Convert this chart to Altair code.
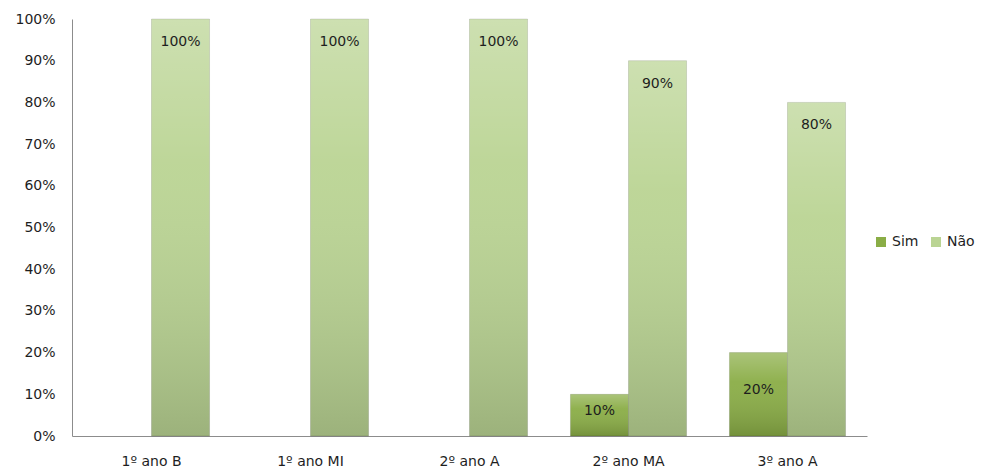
import altair as alt
import pandas as pd

# Respostas por turma (percentual)
turmas = ["1º ano B", "1º ano MI", "2º ano A", "2º ano MA", "3º ano A"]
sim = [0, 0, 0, 10, 20]
nao = [100, 100, 100, 90, 80]
series = ["Sim", "Não"]
cores = ["#8aad46", "#bad493"]
y_ticks = list(range(0, 101, 10))

rows = []
for t, s, n in zip(turmas, sim, nao):
    rows.append({"turma": t, "resposta": "Sim", "valor": s})
    rows.append({"turma": t, "resposta": "Não", "valor": n})
df = pd.DataFrame(rows)

FONT = "DejaVu Sans"
FS = 14
TXT = "#1e1e1e"
AXIS_LINE = "#8c8c8c"

x = alt.X(
    "turma:N",
    sort=turmas,
    scale=alt.Scale(paddingInner=0.27, paddingOuter=0.135),
    axis=alt.Axis(title=None, labelAngle=0, ticks=False, domainColor=AXIS_LINE,
                  labelPadding=18, labelFontSize=FS, labelColor=TXT, labelFont=FONT),
)
xo = alt.XOffset("resposta:N", sort=series, scale=alt.Scale(paddingInner=0, paddingOuter=0))
y_scale = alt.Scale(domain=[0, 100], nice=False)
y = alt.Y(
    "valor:Q",
    scale=y_scale,
    axis=alt.Axis(title=None, values=y_ticks, labelExpr="datum.value + '%'", grid=False,
                  ticks=False, domainColor=AXIS_LINE, labelPadding=17, labelFontSize=FS,
                  labelColor=TXT, labelFont=FONT),
)

base = alt.Chart(df).encode(x=x, xOffset=xo)
visible = base.transform_filter("datum.valor > 0")

bars = visible.mark_bar(stroke="#000000", strokeOpacity=0.12, strokeWidth=1).encode(
    y=y,
    color=alt.Color(
        "resposta:N",
        sort=series,
        scale=alt.Scale(domain=series, range=cores),
        legend=alt.Legend(
            title=None, orient="none", legendX=802, legendY=216, direction="horizontal",
            symbolType="square", symbolSize=100, symbolStrokeWidth=0, labelFontSize=FS,
            labelFont=FONT, labelColor=TXT, columnPadding=10, labelOffset=4,
        ),
    ),
)

# shading over each bar: lighter top, darker base
shade = visible.mark_bar(
    fill=alt.Gradient(
        gradient="linear", x1=0, y1=0, x2=0, y2=1,
        stops=[
            alt.GradientStop(color="rgba(255,255,255,0.28)", offset=0),
            alt.GradientStop(color="rgba(255,255,255,0.05)", offset=0.35),
            alt.GradientStop(color="rgba(0,0,0,0.16)", offset=1),
        ],
    )
).encode(y=alt.Y("valor:Q", scale=y_scale))

labels_nao = visible.transform_filter("datum.resposta == 'Não'").transform_calculate(
    rotulo="datum.valor + '%'"
).mark_text(baseline="middle", dy=23, fontSize=FS, font=FONT, color=TXT).encode(
    y=alt.Y("valor:Q", scale=y_scale), text="rotulo:N"
)

labels_sim = visible.transform_filter("datum.resposta == 'Sim'").transform_calculate(
    rotulo="datum.valor + '%'", meio="datum.valor / 2"
).mark_text(baseline="middle", dy=-4, fontSize=FS, font=FONT, color=TXT).encode(
    y=alt.Y("meio:Q", scale=y_scale), text="rotulo:N"
)

chart = alt.layer(bars, shade, labels_nao, labels_sim).properties(
    width=795,
    height=417,
    padding={"left": 72, "top": 19, "right": 114, "bottom": 34},
    autosize=alt.AutoSizeParams(type="none"),
    background="white",
).configure_view(stroke=None)

chart.save("out.html", embed_options={"renderer": "svg", "actions": False})
